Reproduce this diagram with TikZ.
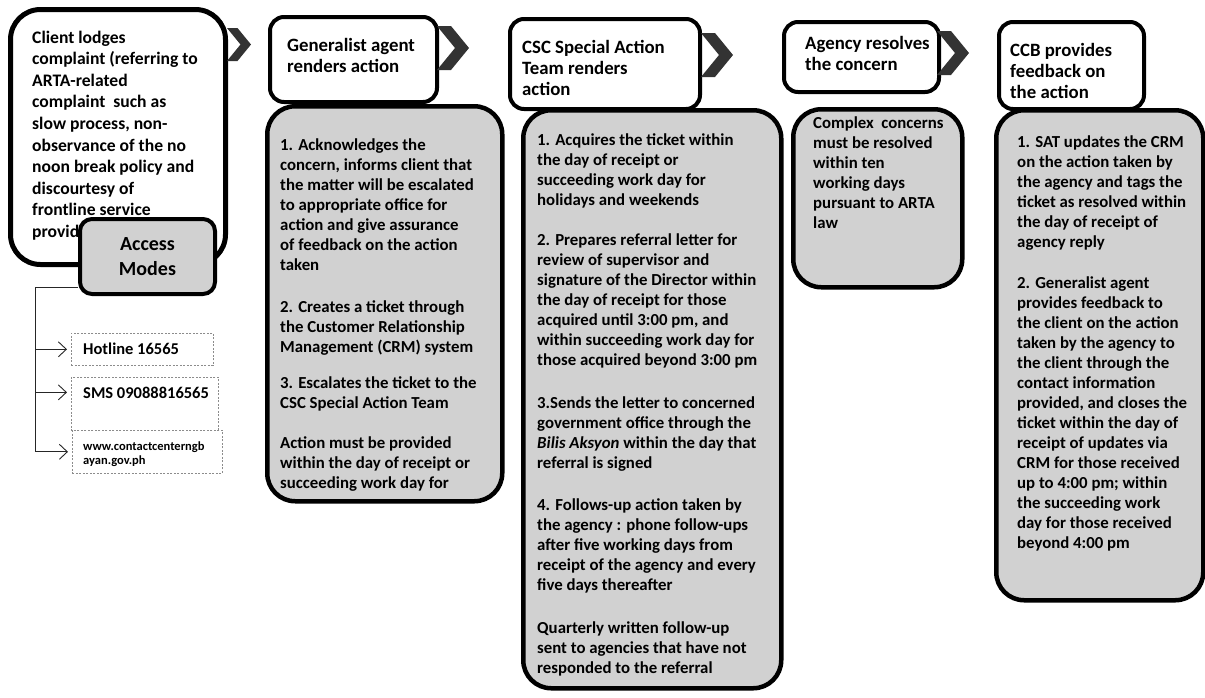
\documentclass[tikz,border=0pt]{standalone}
\usepackage{fontspec}
\setmainfont{Carlito}
\usetikzlibrary{arrows.meta}
\newcommand\mylines[1]{\begin{tabular}[t]{@{}l@{}}#1\end{tabular}}
\begin{document}
\begin{tikzpicture}[x=1pt,y=-1pt,
  hdr/.style={draw=black, line width=4pt, rounded corners=14pt, fill=white, anchor=north west, inner sep=0pt},
  bodybox/.style={draw=black, line width=4.5pt, rounded corners=28pt, fill=black!18, anchor=north west, inner sep=0pt},
  modebox/.style={draw=black!45, line width=0.6pt, dash pattern=on 2pt off 1.5pt, fill=white, anchor=north west, inner sep=0pt},
  hdrtxt/.style={inner sep=0pt, anchor=base west, font=\fontsize{18.8}{21}\selectfont\bfseries},
  bodytxt/.style={inner sep=0pt, anchor=base west, font=\fontsize{16.8}{20}\selectfont\bfseries},
  modetxt/.style={inner sep=0pt, anchor=base west, font=\fontsize{16.5}{20}\selectfont\bfseries},
  modearrow/.style={draw=black!85, line width=0.9pt, -{Straight Barb[length=8pt,width=15pt,line width=0.9pt]}, shorten >=4pt},
  chev/.pic={\fill[black!80] (0,0) -- (14,0) -- (32,22) -- (14,44) -- (0,44) -- (18,22) -- cycle;}
]
\useasboundingbox (0,0) rectangle (1205,697);

% ---- Client column ----
\node[hdr, line width=5pt, rounded corners=30pt, minimum width=215, minimum height=255] (client) at (8,7) {};
\node[inner sep=0pt, anchor=base west, font=\fontsize{17.6}{21.6}\selectfont\bfseries] (clienttxt) at (32,43) {\mylines{Client lodges\\complaint (referring to\\ARTA-related\\complaint\ \ such as\\slow process, non-\\observance of the no\\noon break policy and\\discourtesy of\\frontline service\\providers)}};
\pic[scale=0.75] at (227,28) {chev};

\node[draw=black, line width=4pt, rounded corners=12pt, fill=black!18, anchor=north west, minimum width=135, minimum height=75, inner sep=0pt] (am) at (78,217) {};
\node[inner sep=0pt, align=center, font=\fontsize{20}{24.5}\selectfont\bfseries] (amtxt) at (am.center) {Access\\Modes};

\node[modebox, minimum width=142, minimum height=32] (hotbox) at (71,333) {};
\node[modetxt] (hot) at (83,354) {Hotline 16565};
\node[modebox, minimum width=147, minimum height=53] (smsbox) at (71,377) {};
\node[modetxt] (sms) at (83,398) {SMS 09088816565};
\node[modebox, minimum width=150, minimum height=43] (wwwbox) at (72,430) {};
\node[inner sep=0pt, anchor=base west, font=\fontsize{12.5}{14.5}\selectfont\bfseries] (www) at (83,450) {\mylines{www.contactcenterngb\\ayan.gov.ph}};

\coordinate (trunk) at (35,287);
\draw[draw=black!85, line width=0.9pt] (trunk) -- (am.west |- trunk);
\draw[modearrow] (trunk) |- (hotbox.west);
\draw[modearrow] (trunk) |- (sms.west -| smsbox.west);
\draw[modearrow] (trunk) |- (wwwbox.west);

% ---- Generalist ----
\node[hdr, minimum width=167, minimum height=85] (gh) at (268,15) {};
\node[hdrtxt] (ghtxt) at (287,51) {\mylines{Generalist agent\\renders action}};
\pic at (437,26) {chev};
\node[bodybox, minimum width=235, minimum height=395] (gb) at (265,104) {};
\node[bodytxt] (gbtxt) at (280,150) {\mylines{1. Acknowledges the\\concern, informs client that\\the matter will be escalated\\to appropriate office for\\action and give assurance\\of feedback on the action\\taken\\[22pt]2. Creates a ticket through\\the Customer Relationship\\Management (CRM) system\\[16pt]3. Escalates the ticket to the\\CSC Special Action Team\\[20pt]Action must be provided\\within the day of receipt or\\succeeding work day for}};

% ---- CSC ----
\node[hdr, minimum width=190, minimum height=90] (ch) at (508,17) {};
\node[hdrtxt] (chtxt) at (522,53) {\mylines{CSC Special Action\\Team renders\\action}};
\pic at (701,33) {chev};
\node[bodybox, minimum width=258, minimum height=578] (cb) at (521,108) {};
\node[bodytxt] (cbtxt) at (537,145) {\mylines{1. Acquires the ticket within\\the day of receipt or\\succeeding work day for\\holidays and weekends\\[20pt]2. Prepares referral letter for\\review of supervisor and\\signature of the Director within\\the day of receipt for those\\acquired until 3:00 pm, and\\within succeeding work day for\\those acquired beyond 3:00 pm\\[23pt]3.Sends the letter to concerned\\government office through the\\\textit{Bilis Aksyon} within the day that\\referral is signed\\[22pt]4. Follows-up action taken by\\the agency : phone follow-ups\\after five working days from\\receipt of the agency and every\\five days thereafter\\[23pt]Quarterly written follow-up\\sent to agencies that have not\\responded to the referral}};

% ---- Agency ----
\node[hdr, minimum width=155, minimum height=70] (ah) at (782,20) {};
\node[hdrtxt] (ahtxt) at (805,49) {\mylines{Agency resolves\\the concern}};
\pic at (937,31) {chev};
\node[bodybox, minimum width=169, minimum height=178] (ab) at (791,107) {};
\node[bodytxt] (abtxt) at (813,128) {\mylines{Complex\ \ concerns\\must be resolved\\within ten\\working days\\pursuant to ARTA\\law}};

% ---- CCB ----
\node[hdr, minimum width=145, minimum height=87] (bh) at (997,20) {};
\node[hdrtxt] (bhtxt) at (1010,56) {\mylines{CCB provides\\feedback on\\the action}};
\node[bodybox, minimum width=207, minimum height=490] (bb) at (994,108) {};
\node[bodytxt] (bbtxt) at (1017,147) {\mylines{1. SAT updates the CRM\\on the action taken by\\the agency and tags the\\ticket as resolved within\\the day of receipt of\\agency reply\\[21pt]2. Generalist agent\\provides feedback to\\the client on the action\\taken by the agency to\\the client through the\\contact information\\provided, and closes the\\ticket within the day of\\receipt of updates via\\CRM for those received\\up to 4:00 pm; within\\the succeeding work\\day for those received\\beyond 4:00 pm}};
\end{tikzpicture}
\end{document}
